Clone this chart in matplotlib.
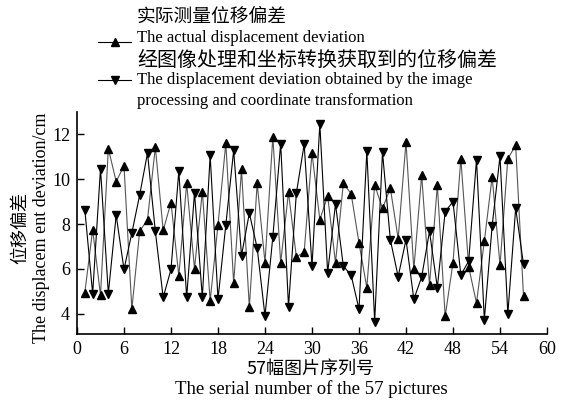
import matplotlib
matplotlib.use("Agg")
import matplotlib.pyplot as plt
from matplotlib.lines import Line2D

serial = list(range(1, 58))
actual = [4.95, 7.75, 4.83, 11.37, 9.9, 10.6, 4.21, 7.68, 8.2, 11.44,
          7.72, 8.96, 5.69, 9.82, 6.01, 9.45, 4.58, 7.97, 11.62, 5.36,
          10.44, 4.29, 9.82, 6.28, 11.9, 6.28, 9.42, 6.54, 6.75, 11.17,
          8.2, 9.26, 6.28, 9.82, 9.35, 7.16, 5.17, 9.75, 8.7, 9.6,
          7.35, 11.66, 5.98, 10.19, 5.27, 9.74, 3.89, 6.28, 10.92, 6.1,
          4.48, 7.24, 10.11, 6.16, 10.92, 11.51, 4.8]
obtained = [8.64, 4.9, 10.48, 4.9, 8.4, 5.98, 7.6, 9.3, 11.17, 7.68,
            4.73, 5.98, 10.38, 4.73, 9.4, 4.73, 11.07, 4.65, 7.97, 11.29,
            6.6, 8.49, 6.94, 3.9, 7.43, 11.59, 4.32, 9.37, 11.56, 6.13,
            12.47, 5.83, 8.9, 6.13, 5.72, 4.21, 11.26, 3.65, 11.2, 7.3,
            5.66, 7.31, 4.65, 5.64, 7.68, 5.17, 8.56, 9.0, 5.73, 6.35,
            10.88, 3.74, 7.93, 11.03, 3.99, 8.71, 6.2]
xticks = [0, 6, 12, 18, 24, 30, 36, 42, 48, 54, 60]
yticks = [4, 6, 8, 10, 12]

serif = ["Liberation Serif", "DejaVu Serif"]
cjk = ["Noto Sans CJK SC", "DejaVu Sans"]
plt.rcParams["font.family"] = serif

W, H = 566, 401
fig = plt.figure(figsize=(W / 100, H / 100), dpi=100)
ax = fig.add_axes([77 / W, 1 - 334 / H, 470 / W, (334 - 112) / H])

ax.plot(serial, actual, color="#555555", lw=0.8, marker="^", ms=6.2,
        mfc="black", mec="black", zorder=3)
ax.plot(serial, obtained, color="black", lw=0.8, marker="v", ms=6.2,
        mfc="black", mec="black", zorder=3)

ax.set_xlim(0, 60)
ax.set_ylim(3.1, 13.0)
ax.set_xticks(xticks)
ax.set_yticks(yticks)
ax.tick_params(direction="in", length=5, width=1, labelsize=13, pad=5)
for s in ["top", "right"]:
    ax.spines[s].set_visible(False)
for s in ["left", "bottom"]:
    ax.spines[s].set_linewidth(1.2)

fe = 12
# legend
fig.text(137 / W, 1 - 16 / H, "实际测量位移偏差", family=cjk, fontsize=13.5,
         va="center", ha="left")
fig.text(137 / W, 1 - 38 / H, "The actual displacement deviation", fontsize=fe,
         va="center", ha="left")
fig.text(137 / W, 1 - 60 / H, "经图像处理和坐标转换获取到的位移偏差", family=cjk,
         fontsize=14.4, va="center", ha="left")
fig.text(137 / W, 1 - 80 / H, "The displacement deviation obtained by the image",
         fontsize=fe, va="center", ha="left")
fig.text(137 / W, 1 - 101 / H, "processing and coordinate transformation",
         fontsize=fe, va="center", ha="left")
fig.add_artist(Line2D([98 / W, 131 / W], [1 - 42 / H, 1 - 42 / H], color="black",
                      lw=0.8, transform=fig.transFigure))
fig.add_artist(Line2D([114.5 / W], [1 - 42 / H], color="black", lw=0, marker="^",
                      ms=6.2, transform=fig.transFigure))
fig.add_artist(Line2D([98 / W, 131 / W], [1 - 80 / H, 1 - 80 / H], color="black",
                      lw=0.8, transform=fig.transFigure))
fig.add_artist(Line2D([114.5 / W], [1 - 80 / H], color="black", lw=0, marker="v",
                      ms=6.2, transform=fig.transFigure))

# axis labels
fig.text(311 / W, 1 - 369 / H, "57幅图片序列号", family=cjk, fontsize=13,
         ha="center", va="center")
fig.text(311 / W, 1 - 389 / H, "The serial number of the 57 pictures", fontsize=13.5,
         ha="center", va="center")
fig.text(20 / W, 1 - 228 / H, "位移偏差", family=cjk, fontsize=13, rotation=90,
         ha="center", va="center")
fig.text(42 / W, 1 - 228 / H, "The displacem ent deviation/cm", fontsize=13,
         rotation=90, ha="center", va="center")

fig.savefig("out.png", dpi=100)
